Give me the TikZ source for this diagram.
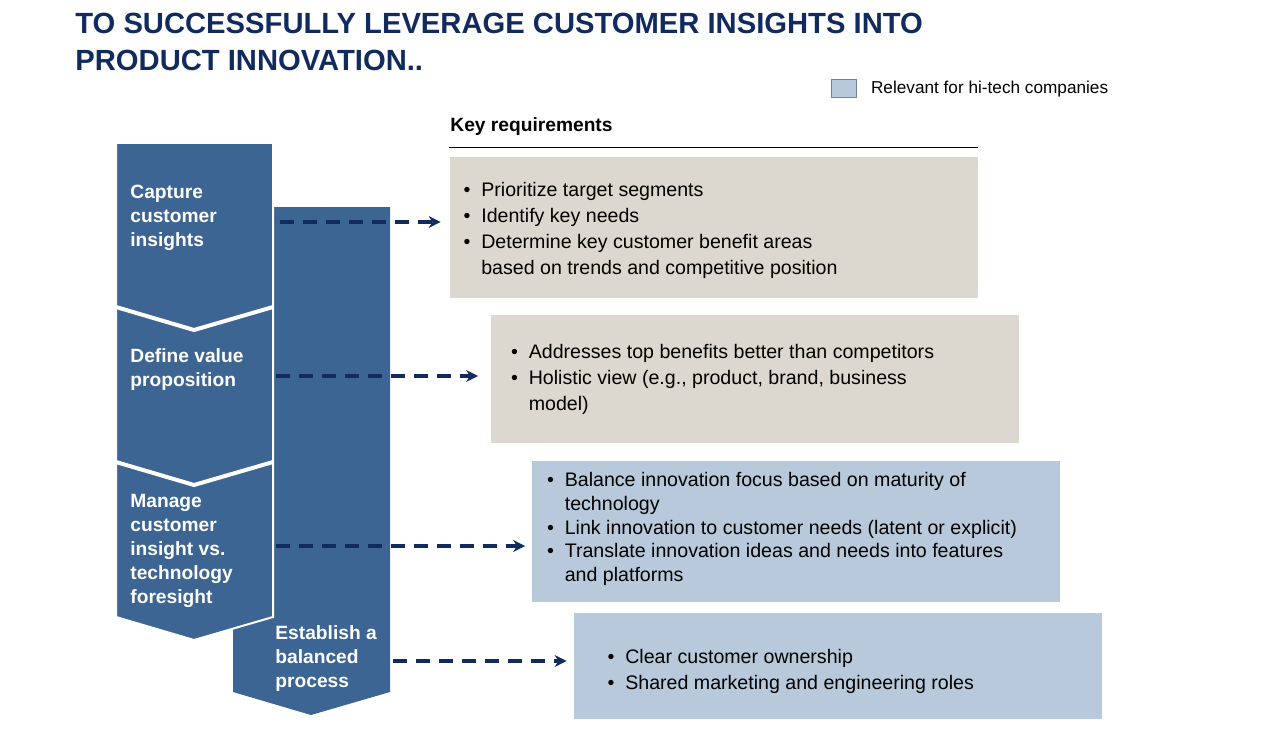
\documentclass[tikz,border=0pt]{standalone}
\usepackage{fontspec}
\setmainfont{Liberation Sans}
\usetikzlibrary{arrows.meta}
\definecolor{navy}{HTML}{112B5E}
\definecolor{stepblue}{HTML}{3C6593}
\definecolor{beige}{HTML}{DDD8CF}
\definecolor{hitech}{HTML}{B7C9DA}
\newcommand{\itm}{\textbullet\hspace{0.55em}}
\newcommand{\cnt}{\hphantom{\textbullet}\hspace{0.55em}}
\begin{document}
\begin{tikzpicture}[x=0.5pt, y=-0.5pt, >=stealth,
    req/.style={draw=white, minimum width=264.5pt, inner sep=0pt},
    reqtext/.style={anchor=west, align=left, font=\fontsize{9.8}{13}\selectfont},
    steplabel/.style={anchor=north west, align=left, text=white, font=\bfseries\fontsize{9.6}{12}\selectfont, inner sep=0pt},
    link/.style={draw=navy, line width=1.6pt, dash pattern=on 7pt off 4.5pt, -{Stealth[length=6pt,width=6pt]}}]
    \useasboundingbox (0,0) rectangle (1280,738);

    % title and legend
    \node[anchor=north west, align=left, inner sep=0pt, text=navy, font=\bfseries\fontsize{14.6}{18.5}\selectfont] (title) at (75,13) {TO SUCCESSFULLY LEVERAGE CUSTOMER INSIGHTS INTO\\PRODUCT INNOVATION..};
    \node[draw=navy!60, fill=hitech, minimum width=12.5pt, minimum height=9pt, inner sep=0pt] (legend) at (844,88) {};
    \node[anchor=west, font=\fontsize{8.6}{10}\selectfont] (legendtext) at (864,89) {Relevant for hi-tech companies};

    \node[anchor=west, font=\bfseries\fontsize{9.6}{12}\selectfont, inner sep=0pt] (keyreq) at (450,127) {Key requirements};
    \draw (449,147) -- (978,147);

    % process chevrons
    \fill[stepblue] (233,207) -- (390,207) -- (390,692) -- (311,715) -- (233,692) -- cycle;
    \filldraw[fill=stepblue, draw=white, line width=1pt] (116,143) -- (273,143) -- (273,617) -- (194,640) -- (116,617) -- cycle;
    \draw[white, line width=2pt] (116,307) -- (194,330) -- (273,307);
    \draw[white, line width=2pt] (116,462) -- (194,485) -- (273,462);

    \node[steplabel] (capture) at (130,185) {Capture\\customer\\insights};
    \node[steplabel] (define) at (130,348) {Define value\\proposition};
    \node[steplabel] (manage) at (130,494) {Manage\\customer\\insight vs.\\technology\\foresight};
    \node[steplabel] (establish) at (275,625) {Establish a\\balanced\\process};

    % requirement boxes
    \node[req, fill=beige, minimum height=71pt] (box1) at (713.5,227.5) {};
    \node[req, fill=beige, minimum height=64.5pt] (box2) at (755,379) {};
    \node[req, fill=hitech, minimum height=71pt] (box3) at (796,531) {};
    \node[req, fill=hitech, minimum height=53.5pt] (box4) at (837.5,665.5) {};

    \node[reqtext] (text1) at ([xshift=4pt,yshift=-1.5pt]box1.west) {\itm Prioritize target segments\\\itm Identify key needs\\\itm Determine key customer benefit areas\\\cnt based on trends and competitive position};
    \node[reqtext] (text2) at ([xshift=7pt]box2.west) {\itm Addresses top benefits better than competitors\\\itm Holistic view (e.g., product, brand, business\\\cnt model)};
    \node[reqtext, font=\fontsize{9.8}{11.8}\selectfont] (text3) at ([xshift=4.5pt,yshift=1pt]box3.west) {\itm Balance innovation focus based on maturity of\\\cnt technology\\\itm Link innovation to customer needs (latent or explicit)\\\itm Translate innovation ideas and needs into features\\\cnt and platforms};
    \node[reqtext] (text4) at ([xshift=14pt,yshift=-3pt]box4.west) {\itm Clear customer ownership\\\itm Shared marketing and engineering roles};

    % dashed links
    \coordinate (from1) at (280,222);
    \coordinate (from2) at (276,376);
    \coordinate (from3) at (276,546);
    \coordinate (from4) at (393,661);
    \draw[link] (from1) -- ([xshift=-4pt]box1.west |- from1);
    \draw[link] (from2) -- ([xshift=-6pt]box2.west |- from2);
    \draw[link] (from3) -- ([xshift=-3pt]box3.west |- from3);
    \draw[link] (from4) -- ([xshift=-3pt]box4.west |- from4);
\end{tikzpicture}
\end{document}
